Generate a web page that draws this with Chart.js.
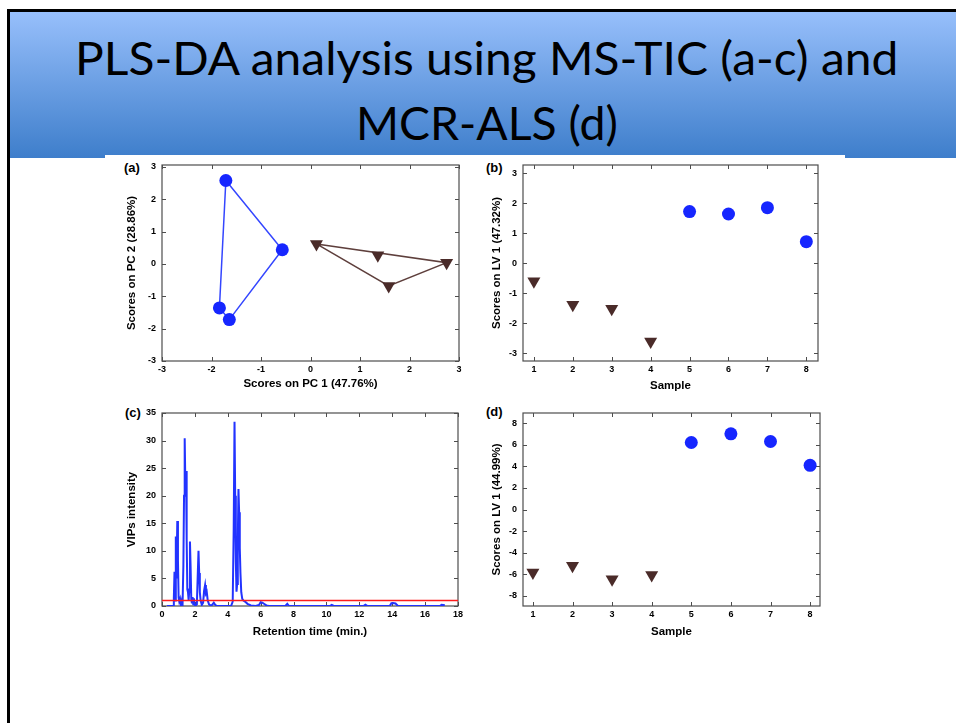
<!DOCTYPE html>
<html>
<head>
<meta charset="utf-8">
<script src="https://cdn.jsdelivr.net/npm/chart.js@4.4.1/dist/chart.umd.min.js"></script>
<style>
  body { margin: 0; width: 956px; height: 723px; overflow: hidden; background: #fff; position: relative; }
  #frame { position: absolute; left: 7px; top: 9px; width: 960px; height: 720px; border-left: 3px solid #000; border-top: 3px solid #000; }
  #header { position: absolute; left: 10px; top: 12px; width: 946px; height: 146px; background: linear-gradient(#97bffb, #3e7ecb); }
  #figure { position: absolute; left: 105px; top: 155px; width: 740px; height: 500px; background: #fff; }
  .tline { position: absolute; white-space: nowrap; font-family: Lato, sans-serif; font-size: 46px; line-height: 53px; color: #000; transform-origin: 0 0; }
  .tag { position: absolute; font: bold 13px "Liberation Sans", Arial, sans-serif; color: #000; }
  canvas { position: absolute; }
</style>
</head>
<body>
<div id="frame"></div>
<div id="header"></div>
<div class="tline" id="t1">PLS-DA analysis using MS-TIC (a-c) and</div>
<div class="tline" id="t2">MCR-ALS (d)</div>
<div id="figure"></div>
<div class="tag" style="left:124px;top:160px">(a)</div>
<div class="tag" style="left:486px;top:160px">(b)</div>
<div class="tag" style="left:125px;top:405px">(c)</div>
<div class="tag" style="left:486px;top:404px">(d)</div>
<canvas id="chartA"></canvas>
<canvas id="chartB"></canvas>
<canvas id="chartC"></canvas>
<canvas id="chartD"></canvas>
<script>
// (a) PCA scores, MS-TIC
const pc1Class1 = [-1.71, -0.57, -1.84, -1.64];
const pc2Class1 = [2.58, 0.44, -1.36, -1.72];
const pc1Class2 = [0.12, 1.36, 2.75, 1.58];
const pc2Class2 = [0.62, 0.27, 0.04, -0.68];
const hullClass1 = [0, 1, 3, 2, 0];
const hullClass2 = [0, 2, 3, 0];
const pcTicks = [-3, -2, -1, 0, 1, 2, 3];

// (b) and (d) PLS-DA scores per sample
const samples = [1, 2, 3, 4, 5, 6, 7, 8];
const sampleGroup = [2, 2, 2, 2, 1, 1, 1, 1];
const lv1TicScores = [-0.60, -1.38, -1.51, -2.60, 1.72, 1.64, 1.85, 0.72];
const lv1McrScores = [-5.83, -5.21, -6.45, -6.05, 6.20, 7.00, 6.29, 4.09];
const lvTicTicks = [-3, -2, -1, 0, 1, 2, 3];
const lvMcrTicks = [-8, -6, -4, -2, 0, 2, 4, 6, 8];

// (c) VIP trace
const rtTime = [
  0.3, 0.68, 0.72, 0.76, 0.8, 0.84, 0.88, 0.93, 0.97, 1.01,
  1.05, 1.1, 1.15, 1.2, 1.25, 1.3, 1.34, 1.38, 1.42, 1.46,
  1.5, 1.54, 1.58, 1.62, 1.66, 1.7, 1.74, 1.78, 1.82, 1.86,
  1.9, 1.94, 1.98, 2.05, 2.12, 2.18, 2.22, 2.26, 2.3, 2.35,
  2.42, 2.5, 2.56, 2.62, 2.67, 2.72, 2.78, 2.86, 2.95, 3.05,
  3.15, 3.22, 3.3, 3.45, 4.2, 4.3, 4.36, 4.41, 4.45, 4.49,
  4.53, 4.57, 4.61, 4.65, 4.69, 4.73, 4.77, 4.82, 4.88, 4.95,
  5.05, 5.2, 5.4, 5.7, 5.9, 6.0, 6.1, 6.2, 6.35, 6.5,
  7.5, 7.62, 7.72, 10.2, 10.32, 10.45, 12.25, 12.37, 12.5, 13.85,
  13.95, 14.05, 14.2, 14.35, 16.9, 17.0, 17.2
];
const vipIntensity = [
  0, 0, 1.5, 6.2, 1.0, 12.6, 5, 15.4, 8.3, 1.5,
  0.8, 1.3, 0.3, 1.0, 0.2, 7.4, 20, 30.4, 22, 24.5,
  12, 3.0, 2.5, 1.0, 3, 11.7, 7, 1.2, 0.5, 1.6,
  0.3, 1.4, 0.2, 0.1, 0.3, 6.2, 10.0, 6, 2.5, 1.0,
  0.2, 0.6, 2.8, 3.8, 2.3, 2.6, 1.0, 0.3, 0.1, 0.2,
  0.6, 0.3, 0.05, 0, 0, 0.8, 14, 33.4, 20, 8,
  2.6, 4, 12, 21.2, 17, 10.5, 6, 2.5, 1.3, 1.0,
  0.8, 0.4, 0.1, 0, 0.2, 0.7, 0.6, 0.4, 0.1, 0,
  0, 0.4, 0, 0, 0.2, 0, 0, 0.25, 0, 0,
  0.5, 0.55, 0.45, 0, 0, 0.2, 0.15
];
const vipThreshold = 1;
const rtTicks = [0, 2, 4, 6, 8, 10, 12, 14, 16, 18];
const vipTicks = [0, 5, 10, 15, 20, 25, 30, 35];

const BLUE = '#1626ff';
const BLUE_LINE = '#3446ff';
const BROWN = '#4a2b29';
const BROWN_LINE = '#5e3f3c';

// title lines squeezed to the slide's width
function fitTitle(id, width, center, baseline) {
  const el = document.getElementById(id);
  el.style.display = 'inline-block';
  const w = el.offsetWidth;
  const k = width / w;
  el.style.left = (center - width / 2) + 'px';
  el.style.top = (baseline - 44) + 'px';
  el.style.transform = 'scaleX(' + k + ')';
}
fitTitle('t1', 823, 486, 75);
fitTitle('t2', 262, 487, 140);

// frame + inward ticks on all four sides (matlab look)
const boxAxes = {
  id: 'boxAxes',
  beforeDatasetsDraw(chart) {
    const { ctx, chartArea: a, scales: { x, y } } = chart;
    ctx.save();
    ctx.strokeStyle = '#4d4d4d';
    ctx.lineWidth = 1.2;
    ctx.strokeRect(a.left, a.top, a.right - a.left, a.bottom - a.top);
    ctx.lineWidth = 1;
    ctx.beginPath();
    x.ticks.forEach(t => {
      const px = Math.round(x.getPixelForValue(t.value)) + 0.5;
      ctx.moveTo(px, a.bottom); ctx.lineTo(px, a.bottom - 4);
      ctx.moveTo(px, a.top); ctx.lineTo(px, a.top + 4);
    });
    y.ticks.forEach(t => {
      const py = Math.round(y.getPixelForValue(t.value)) + 0.5;
      ctx.moveTo(a.left, py); ctx.lineTo(a.left + 4, py);
      ctx.moveTo(a.right, py); ctx.lineTo(a.right - 4, py);
    });
    ctx.stroke();
    ctx.restore();
  }
};

const tickFont = { family: '"Liberation Sans", Arial, sans-serif', size: 9, weight: 'bold' };
const titleFont = { family: '"Liberation Sans", Arial, sans-serif', size: 11.5, weight: 'bold' };

function axis(min, max, ticks, title, size, pad) {
  return {
    type: 'linear', min: min, max: max,
    grid: { display: false, drawTicks: false },
    border: { display: false },
    afterBuildTicks: s => { s.ticks = ticks.map(v => ({ value: v })); },
    afterFit: s => {
      if (s.isHorizontal()) s.height = size; else s.width = size;
      s.paddingLeft = 0; s.paddingRight = 0; s.paddingTop = 0; s.paddingBottom = 0;
    },
    ticks: { color: '#000', font: tickFont, padding: pad, maxRotation: 0, autoSkip: false, callback: v => String(v) },
    title: { display: true, text: title, color: '#000', font: titleFont, padding: { top: 4, bottom: 2 } }
  };
}

function makePanel(id, box, area, xAxis, yAxis, datasets) {
  const cv = document.getElementById(id);
  cv.width = box.w; cv.height = box.h;
  cv.style.left = box.left + 'px'; cv.style.top = box.top + 'px';
  cv.style.width = box.w + 'px'; cv.style.height = box.h + 'px';
  const xa = axis(xAxis.min, xAxis.max, xAxis.ticks, xAxis.title, box.top + box.h - area.bottom, 3);
  const ya = axis(yAxis.min, yAxis.max, yAxis.ticks, yAxis.title, area.left - box.left, 6);
  ya.position = 'left';
  xa.position = 'bottom';
  return new Chart(cv, {
    type: 'scatter',
    data: { datasets: datasets },
    options: {
      responsive: false,
      animation: false,
      devicePixelRatio: 1,
      layout: { padding: { top: area.top - box.top, right: box.left + box.w - area.right, left: 0, bottom: 0 } },
      plugins: { legend: { display: false }, tooltip: { enabled: false } },
      scales: { x: xa, y: ya }
    },
    plugins: [boxAxes]
  });
}

function pts(xs, ys) { return xs.map((v, i) => ({ x: v, y: ys[i] })); }
function hull(xs, ys, order) { return order.map(i => ({ x: xs[i], y: ys[i] })); }

function circles(data, r) {
  return { data: data, pointStyle: 'circle', pointRadius: r, backgroundColor: BLUE, borderWidth: 0, clip: false, order: 0 };
}
function triangles(data, r) {
  return { data: data, pointStyle: 'triangle', rotation: 180, pointRadius: r, backgroundColor: BROWN, borderWidth: 0, clip: false, order: 0 };
}
function outline(data, color) {
  return { data: data, showLine: true, pointRadius: 0, borderColor: color, borderWidth: 1.5, order: 1 };
}

// (a)
makePanel('chartA',
  { left: 121, top: 156, w: 348, h: 237 },
  { left: 162, top: 165, right: 459, bottom: 361 },
  { min: -3, max: 3, ticks: pcTicks, title: 'Scores on PC 1 (47.76%)' },
  { min: -3, max: 3.06, ticks: pcTicks, title: 'Scores on PC 2 (28.86%)' },
  [
    circles(pts(pc1Class1, pc2Class1), 6.5),
    triangles(pts(pc1Class2, pc2Class2), 7.5),
    outline(hull(pc1Class1, pc2Class1, hullClass1), BLUE_LINE),
    outline(hull(pc1Class2, pc2Class2, hullClass2), BROWN_LINE)
  ]);

function groupPts(scores, g) {
  return samples.filter((s, i) => sampleGroup[i] === g).map(s => ({ x: s, y: scores[samples.indexOf(s)] }));
}

// (b)
makePanel('chartB',
  { left: 486, top: 156, w: 342, h: 239 },
  { left: 523, top: 165, right: 818, bottom: 361 },
  { min: 0.72, max: 8.3, ticks: samples, title: 'Sample' },
  { min: -3.25, max: 3.27, ticks: lvTicTicks, title: 'Scores on LV 1 (47.32%)' },
  [
    circles(groupPts(lv1TicScores, 1), 6.5),
    triangles(groupPts(lv1TicScores, 2), 7.5)
  ]);

// (c)
makePanel('chartC',
  { left: 121, top: 404, w: 347, h: 237 },
  { left: 162, top: 413, right: 458, bottom: 606 },
  { min: 0, max: 18, ticks: rtTicks, title: 'Retention time (min.)' },
  { min: 0, max: 35, ticks: vipTicks, title: 'VIPs intensity' },
  [
    { data: [{ x: 0, y: vipThreshold }, { x: 18, y: vipThreshold }], showLine: true, pointRadius: 0, borderColor: '#ff1c1c', borderWidth: 1.5, order: 0 },
    { data: pts(rtTime, vipIntensity), showLine: true, pointRadius: 0, borderColor: '#2233ff', borderWidth: 2, order: 1 }
  ]);

// (d)
makePanel('chartD',
  { left: 486, top: 404, w: 344, h: 237 },
  { left: 523, top: 413, right: 820, bottom: 606 },
  { min: 0.75, max: 8.25, ticks: samples, title: 'Sample' },
  { min: -8.93, max: 8.93, ticks: lvMcrTicks, title: 'Scores on LV 1 (44.99%)' },
  [
    circles(groupPts(lv1McrScores, 1), 6.5),
    triangles(groupPts(lv1McrScores, 2), 7.5)
  ]);
</script>
</body>
</html>
